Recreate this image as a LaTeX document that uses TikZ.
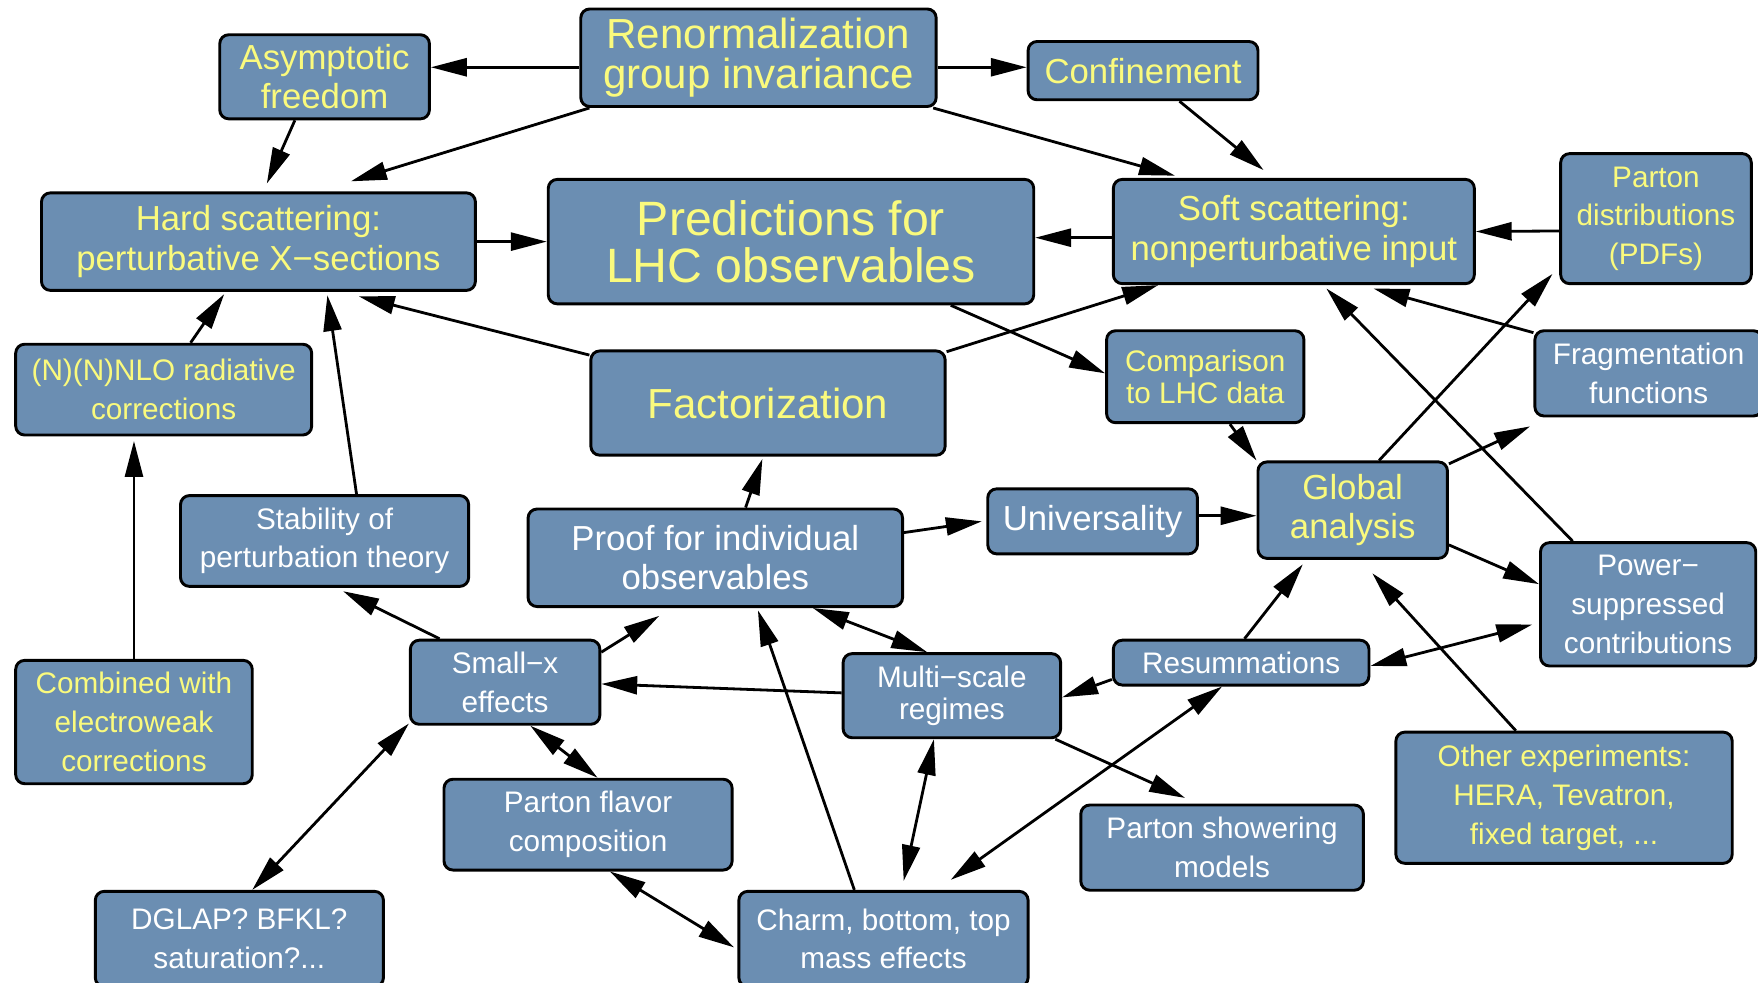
\documentclass[tikz,border=0pt]{standalone}
\usepackage{fontspec}
\setmainfont{Liberation Sans}
\usetikzlibrary{arrows.meta}
\definecolor{boxblue}{RGB}{107,142,178}
\definecolor{hotyellow}{RGB}{250,250,125}
\tikzset{
    block/.style={draw=black, line width=2.6pt, rounded corners=8pt, fill=boxblue, align=center, inner sep=0pt, text=white}, % Boxes
    hot/.style={text=hotyellow}, % Yellow labels
    dims/.style 2 args={minimum width=#1, minimum height=#2},
    fs/.style={font=\fontsize{26.5}{34.5}\selectfont},
    fm/.style={font=\fontsize{31}{35}\selectfont},
    fl/.style={font=\fontsize{37.5}{36}\selectfont},
    fxl/.style={font=\fontsize{43}{42}\selectfont},
    link/.style={-{Triangle[length=32pt,width=16pt]}, line width=2.5pt}, % Directed edges
    both/.style={{Triangle[length=32pt,width=16pt]}-{Triangle[length=32pt,width=16pt]}, line width=2.5pt},
}
\begin{document}
\begin{tikzpicture}[x=1pt, y=-1pt]
  \fill[white] (0,0) rectangle (1568,876);
  \useasboundingbox (0,0) rectangle (1568,876);

  \node[block, hot, fl, dims={317}{87}] (ren) at (676.5,51.5) {Renormalization\\group invariance};
  \node[block, hot, fm, dims={187}{75}] (asym) at (289.5,68.5) {Asymptotic\\freedom};
  \node[block, hot, fm, dims={205}{52}] (conf) at (1019.5,63) {Confinement};
  \node[block, hot, fm, dims={387}{87}] (hard) at (230.5,215.5) {Hard scattering:\\perturbative X−sections};
  \node[block, hot, fxl, dims={433}{111}] (pred) at (705.5,215.5) {Predictions for\\LHC observables};
  \node[block, hot, fm, dims={322}{93}] (soft) at (1154,206.5) {Soft scattering:\\nonperturbative input};
  \node[block, hot, fs, dims={170}{116}] (pdf) at (1477,195) {Parton\\distributions\\(PDFs)};

  \node[block, hot, fs, dims={264}{81}] (nnlo) at (146,347.5) {(N)(N)NLO radiative\\corrections};
  \node[block, hot, fl, dims={316}{93}] (fact) at (685,359.5) {Factorization};
  \node[block, hot, fs, dims={176}{82}] (comp) at (1075,336) {Comparison\\[-6pt]to LHC data};
  \node[block, fs, dims={203}{76}] (frag) at (1470.5,333) {Fragmentation\\functions};

  \node[block, fs, dims={257}{81}] (stab) at (289.5,482.5) {Stability of\\perturbation theory};
  \node[block, fm, dims={334}{87}] (proof) at (638,497.5) {Proof for individual\\observables};
  \node[block, fm, dims={187}{58}] (univ) at (974.5,465) {Universality};
  \node[block, hot, fm, dims={169}{86}] (glob) at (1206.5,455) {Global\\analysis};
  \node[block, fs, dims={192}{110}] (power) at (1470,539) {Power−\\suppressed\\contributions};

  \node[block, hot, fs, dims={211}{110}] (comb) at (119.5,644) {Combined with\\electroweak\\corrections};
  \node[block, fs, dims={169}{75}] (smallx) at (450.5,608.5) {Small−x\\effects};
  \node[block, fs, dims={194}{75}] (multi) at (849,620.5) {Multi−scale\\[-6pt]regimes};
  \node[block, fs, dims={228}{40}] (resum) at (1107,591) {Resummations};
  \node[block, fs, dims={257}{81}] (flav) at (524.5,735.5) {Parton flavor\\composition};
  \node[block, fs, dims={252}{76}] (shower) at (1090,756) {Parton showering\\models};
  \node[block, hot, fs, dims={300}{117}] (other) at (1395,711.5) {Other experiments:\\HERA, Tevatron,\\fixed target, ...};
  \node[block, fs, dims={257}{85}] (dglap) at (213.5,837.5) {DGLAP? BFKL?\\saturation?...};
  \node[block, fs, dims={258}{85}] (charm) at (788,837.5) {Charm, bottom, top\\mass effects};

  % top row
  \draw[link] ([yshift=-8.5]ren.west) -- ([yshift=8.5]asym.east);
  \draw[link] ([yshift=-8.5]ren.east) -- ([yshift=3]conf.west);
  \draw[link] ([xshift=9]ren.south west) -- ([xshift=82.5,yshift=9]hard.north);
  \draw[link] ([xshift=-4]ren.south east) -- ([xshift=-106,yshift=2]soft.north);
  \draw[link] ([xshift=-26.5]asym.south) -- ([xshift=7.5,yshift=7]hard.north);
  \draw[link] ([xshift=32.5]conf.south) -- ([xshift=-27,yshift=7]soft.north);
  \draw[link] (hard.east) -- (pred.west);
  \draw[link] ([yshift=-5.5]soft.west) -- ([yshift=3.5]pred.east);
  \draw[link] ([yshift=-11]pdf.west) -- (soft.east);

  % into hard and soft scattering
  \draw[link] ([xshift=24]nnlo.north) -- ([xshift=-30.5,yshift=-2]hard.south);
  \draw[link] ([xshift=28.5]stab.north) -- ([xshift=61.5,yshift=-3]hard.south);
  \draw[link] ([yshift=-5]fact.north west) -- ([xshift=89.5,yshift=-4]hard.south);
  \draw[link] ([yshift=-2]fact.north east) -- ([xshift=-121]soft.south);
  \draw[link] ([xshift=142.5]pred.south) -- ([yshift=3]comp.west);
  \draw[link] ([xshift=22]comp.south) -- (glob.north west);
  \draw[link] ([yshift=-3]frag.north west) -- ([xshift=71,yshift=-3]soft.south);
  \draw[link] ([xshift=23.5]glob.north) -- ([xshift=-6,yshift=10]pdf.south west);
  \draw[link] ([xshift=30]power.north west) -- ([xshift=29,yshift=-3]soft.south);
  \draw[link] ([yshift=-3]glob.north east) -- ([xshift=-3,yshift=-8]frag.south west);
  \draw[link] ([yshift=-31]glob.east) -- ([yshift=18]power.west);

  % middle and bottom
  \draw[link, shorten >=4pt] (comb.north) -- (nnlo.south -| comb.north);
  \draw[link] ([xshift=-58.5]smallx.north) -- ([xshift=16.5,yshift=-3]stab.south);
  \draw[link] ([yshift=-12]smallx.north east) -- ([xshift=-50,yshift=-7]proof.south);
  \draw[link] ([xshift=27]proof.north) -- ([xshift=-5,yshift=-2]fact.south);
  \draw[link] ([yshift=22.5]proof.east) -- ([xshift=-4]univ.west);
  \draw[link] ([yshift=5]univ.east) -- ([yshift=-5]glob.west);
  \draw[both] ([xshift=87]proof.south) -- ([xshift=-22]multi.north);
  \draw[link] ([yshift=2.5]multi.west) -- ([yshift=-1.5]smallx.east);
  \draw[link] ([yshift=-15]resum.west) -- ([yshift=-1.5]multi.east);
  \draw[link] ([xshift=3]resum.north) -- ([xshift=-44.5,yshift=-4]glob.south);
  \draw[both] ([yshift=-3]resum.east) -- ([xshift=-6,yshift=-18]power.west);
  \draw[link] ([xshift=-43]other.north) -- ([xshift=17.5,yshift=-12]glob.south);
  \draw[both] ([xshift=22.5]smallx.south) -- ([xshift=8.5]flav.north);
  \draw[both] ([yshift=2]smallx.south west) -- ([xshift=11.5]dglap.north);
  \draw[both] ([xshift=19.5]flav.south) -- ([xshift=-3,yshift=-7.5]charm.west);
  \draw[link] ([xshift=-26]charm.north) -- ([xshift=38,yshift=-2]proof.south);
  \draw[both] ([xshift=18,yshift=8]charm.north) -- ([xshift=-16]multi.south);
  \draw[both] ([xshift=60,yshift=9]charm.north) -- ([xshift=-17]resum.south);
  \draw[link] ([xshift=-6]multi.south east) -- ([xshift=-33,yshift=5]shower.north);
\end{tikzpicture}
\end{document}
